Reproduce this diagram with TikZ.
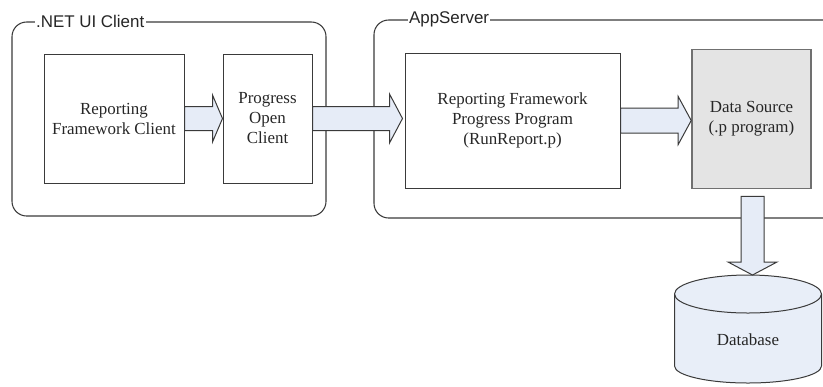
\documentclass[tikz,border=0pt]{standalone}
\usepackage{fontspec}
\setmainfont{Liberation Serif}
\setsansfont{Liberation Sans}
\usetikzlibrary{positioning, calc}
\definecolor{arrowfill}{HTML}{E6ECF7}
\definecolor{dbfill}{HTML}{E8EEF8}
\definecolor{srcfill}{HTML}{E4E4E4}
\definecolor{srcline}{HTML}{707070}
\definecolor{inkline}{HTML}{3A3A3A}
% fat block arrows: tail, tip, shaft half width, head half width, head length
\newcommand{\hflow}[5]{%
  \draw[flow] ($(#1)+(0,-#3)$) -- ($(#2)+(-#5,-#3)$) -- ($(#2)+(-#5,-#4)$) -- (#2)
    -- ($(#2)+(-#5,#4)$) -- ($(#2)+(-#5,#3)$) -- ($(#1)+(0,#3)$) -- cycle;}
\newcommand{\vflow}[5]{%
  \draw[flow] ($(#1)+(-#3,0)$) -- ($(#2)+(-#3,-#5)$) -- ($(#2)+(-#4,-#5)$) -- (#2)
    -- ($(#2)+(#4,-#5)$) -- ($(#2)+(#3,-#5)$) -- ($(#1)+(#3,0)$) -- cycle;}
\begin{document}
\begin{tikzpicture}[
  x=0.75pt, y=-0.75pt,
  every node/.style={font=\fontsize{12.7}{15}\selectfont, text=black!85},
  frame/.style      = {draw=inkline, line width=0.8pt, rounded corners=11pt, inner sep=0pt},
  frametitle/.style = {font=\sffamily\fontsize{12.7}{15}\selectfont, fill=white, inner sep=1pt, anchor=west},
  box/.style        = {draw=inkline, line width=0.75pt, align=center, inner sep=0pt},
  srcbox/.style     = {box, draw=srcline, line width=1.2pt, fill=srcfill},
  dbshape/.style    = {draw=inkline, line width=0.75pt, fill=dbfill},
  flow/.style       = {draw=inkline, line width=0.75pt, fill=arrowfill, line join=miter},
]
  \useasboundingbox (0,0) rectangle (823,386);
  \clip (0,0) rectangle (823,386);
  % containers
  \node[frame, minimum width=235.5pt, minimum height=145.5pt] (net) at (169,119) {};
  \node[frame, minimum width=394.5pt, minimum height=148.5pt] (app) at (637,119) {};
  \node[frametitle] (nettitle) at ($(net.north west)+(23,0)$) {.NET UI Client};
  \node[frametitle] (apptitle) at ($(app.north west)+(34,0)$) {AppServer};
  % components
  \node[box, minimum width=105pt, minimum height=96.75pt] (rfc) at (114,118.5) {Reporting\\Framework Client};
  \node[box, minimum width=66.75pt, minimum height=96.75pt] (poc) at (267.5,118.5) {Progress\\Open\\Client};
  \node[box, minimum width=161.25pt, minimum height=101.25pt] (rfpp) at (512.5,120.5) {Reporting Framework\\Progress Program\\(RunReport.p)};
  \node[srcbox, minimum width=89.25pt, minimum height=104.25pt] (ds) at (751.5,119) {Data Source\\(.p program)};
  % database drum
  \draw[dbshape] (674.5,294) -- (674.5,366) arc[start angle=180, end angle=0, x radius=73.5, y radius=17]
    -- (821.5,294) arc[start angle=0, end angle=-180, x radius=73.5, y radius=19] -- cycle;
  \draw[dbshape, fill=none] (674.5,294) arc[start angle=180, end angle=0, x radius=73.5, y radius=19];
  \coordinate (dbtop) at (748,275);
  \node (db) at (748,340) {Database};
  % flows
  \coordinate (tip1) at (rfc.east -| poc.west);
  \coordinate (tip2) at ($(poc.east -| rfpp.west)+(-2,0)$);
  \coordinate (tip3) at (rfpp.east -| ds.west);
  \coordinate (tail4) at ($(ds.south)+(1,7)$);
  \coordinate (tip4) at (tail4 |- dbtop);
  \hflow{rfc.east}{tip1}{12}{23.5}{10}
  \hflow{poc.east}{tip2}{12}{24.5}{13}
  \hflow{rfpp.east}{tip3}{12.5}{24}{13}
  \vflow{tail4}{tip4}{11.5}{24.5}{13}
\end{tikzpicture}
\end{document}
